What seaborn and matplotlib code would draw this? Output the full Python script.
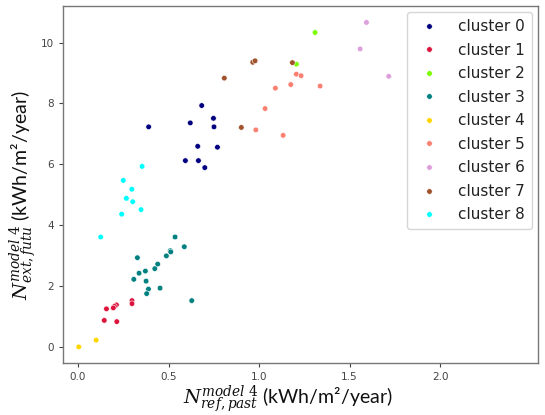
import matplotlib
matplotlib.use("Agg")
import matplotlib.pyplot as plt
import seaborn as sns
import pandas as pd

# ---- data ----
c0_x = [0.39, 0.683, 0.62, 0.748, 0.751, 0.661, 0.77, 0.593, 0.665, 0.70]
c0_y = [7.23, 7.93, 7.36, 7.51, 7.23, 6.59, 6.56, 6.12, 6.12, 5.89]
c1_x = [0.298, 0.298, 0.212, 0.201, 0.195, 0.157, 0.145, 0.214]
c1_y = [1.52, 1.42, 1.38, 1.33, 1.28, 1.25, 0.87, 0.83]
c2_x = [1.206, 1.309]
c2_y = [9.29, 10.33]
c3_x = [0.536, 0.587, 0.51, 0.512, 0.488, 0.328, 0.44, 0.424, 0.372, 0.337,
        0.308, 0.376, 0.453, 0.389, 0.379, 0.628]
c3_y = [3.61, 3.29, 3.16, 3.12, 2.99, 2.93, 2.72, 2.57, 2.49, 2.42,
        2.22, 2.16, 1.93, 1.90, 1.75, 1.52]
c4_x = [0.004, 0.10]
c4_y = [0.0, 0.22]
c5_x = [1.206, 1.232, 1.09, 1.175, 1.033, 0.982, 1.133, 1.337]
c5_y = [8.96, 8.91, 8.50, 8.62, 7.83, 7.13, 6.95, 8.57]
c6_x = [1.593, 1.558, 1.716]
c6_y = [10.66, 9.79, 8.89]
c7_x = [0.808, 0.965, 0.978, 1.184, 0.902]
c7_y = [8.83, 9.35, 9.40, 9.34, 7.21]
c8_x = [0.354, 0.25, 0.297, 0.267, 0.302, 0.348, 0.241, 0.125]
c8_y = [5.93, 5.47, 5.18, 4.88, 4.77, 4.51, 4.36, 3.61]

cluster_names = [f"cluster {i}" for i in range(9)]
cluster_colors = ["navy", "crimson", "lawngreen", "teal", "gold",
                  "salmon", "plum", "sienna", "cyan"]
xs = [c0_x, c1_x, c2_x, c3_x, c4_x, c5_x, c6_x, c7_x, c8_x]
ys = [c0_y, c1_y, c2_y, c3_y, c4_y, c5_y, c6_y, c7_y, c8_y]

rows = []
for name, xv, yv in zip(cluster_names, xs, ys):
    for a, b in zip(xv, yv):
        rows.append({"x": a, "y": b, "cluster": name})
df = pd.DataFrame(rows)

sns.set_style("white")
plt.rcParams["mathtext.fontset"] = "dejavuserif"
plt.rcParams["font.family"] = ["DejaVu Sans"]

fig = plt.figure(figsize=(5.45, 4.15), dpi=100)
ax = fig.add_axes([0.1156, 0.1253, 0.8714, 0.8602])

sns.scatterplot(data=df, x="x", y="y", hue="cluster", hue_order=cluster_names,
                palette=dict(zip(cluster_names, cluster_colors)),
                s=16, edgecolor="white", linewidth=0.4, ax=ax)

ax.set_xlim(-0.083, 2.54)
ax.set_ylim(-0.53, 11.2)
ax.set_xticks([0.0, 0.5, 1.0, 1.5, 2.0])
ax.set_yticks([0, 2, 4, 6, 8, 10])
ax.tick_params(axis="both", labelsize=7.5, colors="#444444", length=3,
               width=0.8, direction="out", bottom=True, left=True)
for sp in ax.spines.values():
    sp.set_color("#777777")
    sp.set_linewidth(1.0)

ax.set_xlabel(r"$N^{model\ 4}_{ref,past}$ (kWh/m²/year)", fontsize=14,
              color="#111111", family=["Lato", "DejaVu Sans"])
ax.set_ylabel(r"$N^{model\ 4}_{ext,futu}$ (kWh/m²/year)", fontsize=14,
              color="#111111", family=["Lato", "DejaVu Sans"])
ax.xaxis.set_label_coords(0.474, -0.056)
ax.yaxis.set_label_coords(-0.05, 0.47)

leg = ax.legend(loc="upper right", fontsize=11, frameon=True, borderaxespad=0.4,
                handletextpad=0.9, labelspacing=0.56, borderpad=0.45)
leg.get_frame().set_edgecolor("#cccccc")
for t in leg.get_texts():
    t.set_color("#222222")

fig.savefig("out.png", dpi=100)
